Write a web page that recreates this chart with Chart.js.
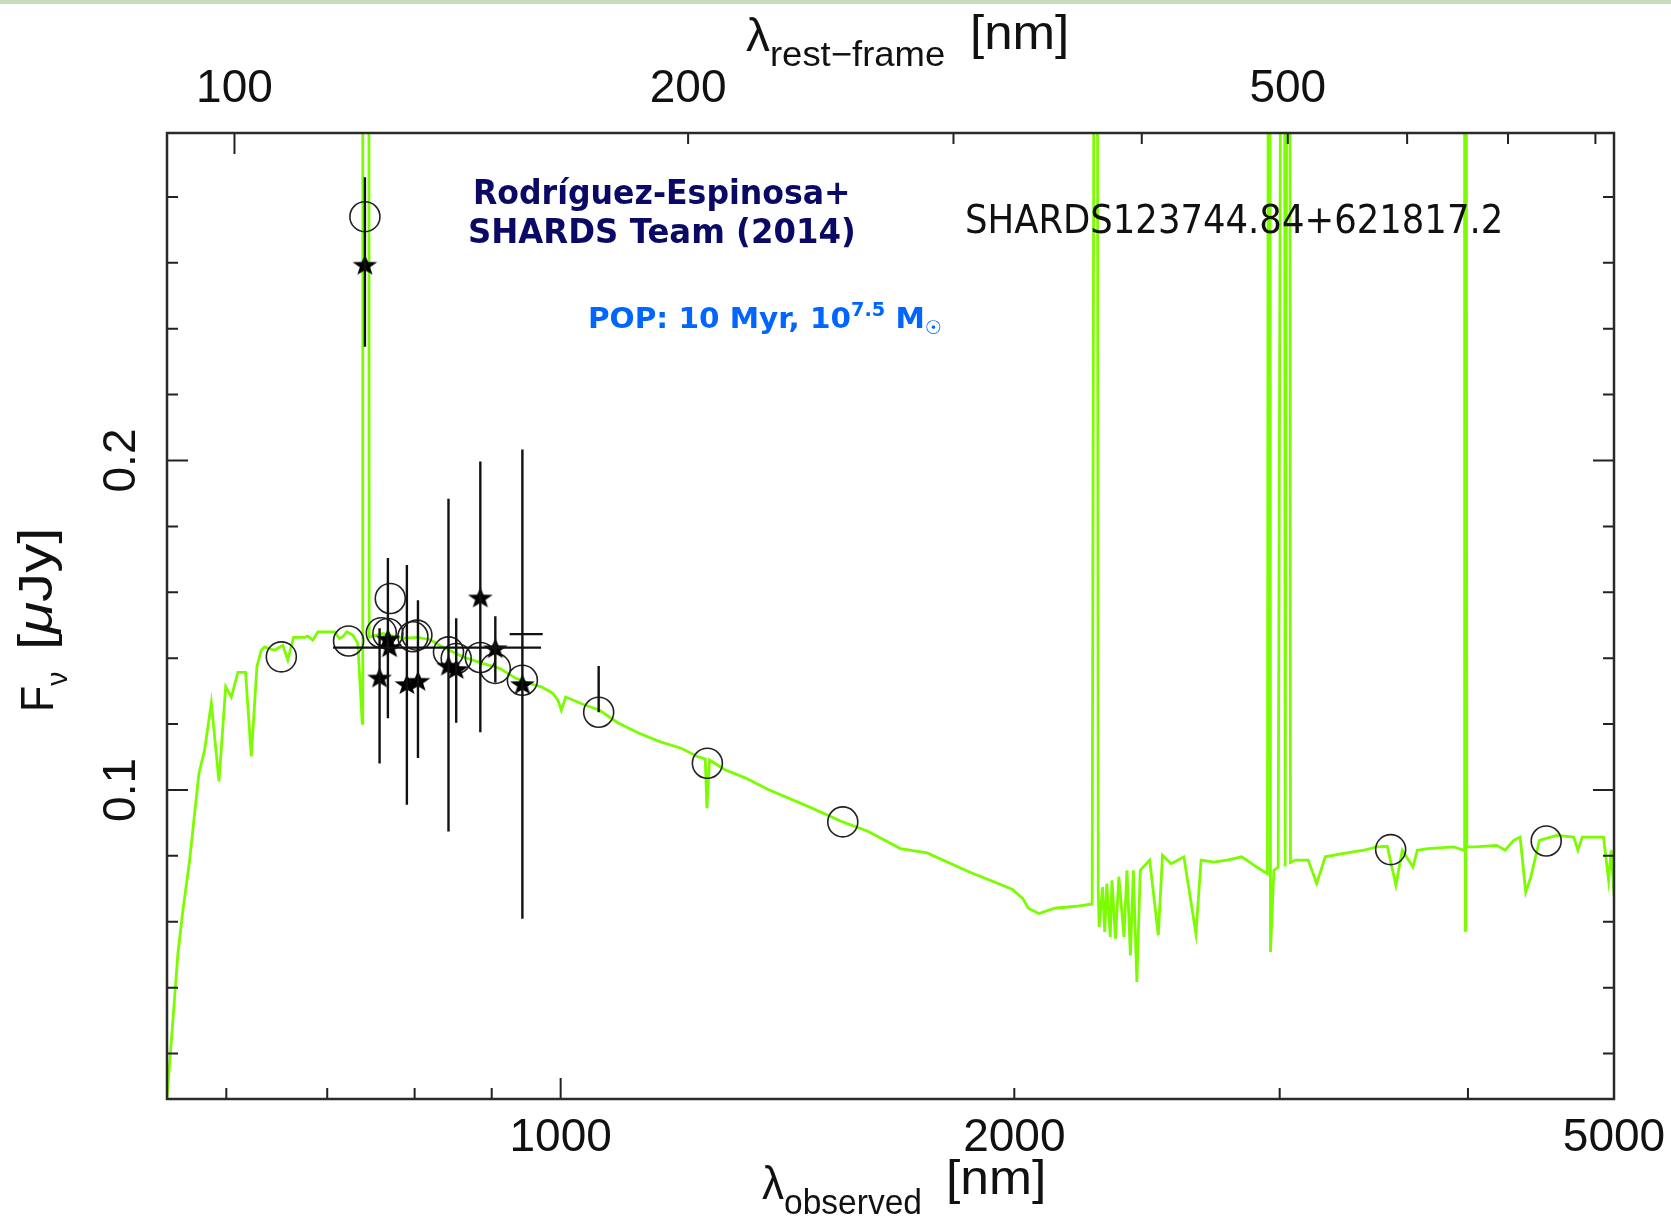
<!DOCTYPE html>
<html><head><meta charset="utf-8">
<script src="https://cdn.jsdelivr.net/npm/chart.js@4"></script>
<style>
html,body{margin:0;padding:0;background:#fff;overflow:hidden;}
#wrap{position:relative;width:1671px;height:1216px;background:#fff;}
#c{position:absolute;left:0;top:0;}
.t{position:absolute;left:0;top:0;white-space:nowrap;line-height:1;}
</style></head><body>
<div id="wrap">
<canvas id="c" width="1671" height="1216"></canvas>
<div style="position:absolute;left:0;top:0;width:1671px;height:4px;background:#c5dcbd"></div>
</div>
<script>
// ---------------- data ----------------
const xMin = 548, xMax = 5000;          // observed wavelength range [nm]
const yMin = 0.0062, yMax = 0.2994;     // F_nu range [uJy]
const redshift = 5.075;                 // rest-frame axis conversion

const xTicks = [600, 700, 800, 900, 1000, 2000, 3000, 4000, 5000];
const xLabels = [1000, 2000, 5000];
const xMajor = [1000];
const topTicks = [100, 200, 300, 400, 500, 600, 700, 800];
const topLabels = [100, 200, 500];
const topMajor = [100];
const yTicks = [0.02, 0.04, 0.06, 0.08, 0.1, 0.12, 0.14, 0.16, 0.18, 0.2, 0.22, 0.24, 0.26, 0.28];
const yLabels = [0.1, 0.2];

// model spectrum (green)
const specWave = [548, 557.2, 561.5, 567.3, 571.6, 575.4, 580.4, 586.4, 593.3, 599.4,
  604.6, 610.7, 617.9, 623.3, 628.7, 632.9, 636.1, 645.9, 654.1, 659.1,
  664.9, 676.2, 679.6, 684.8, 690.1, 707.9, 713.3, 716.9, 721.3, 727.9,
  733.5, 738.5, 739.1, 745.6, 746.3, 762.1, 785.7, 802.0, 818.4, 831.0,
  843.8, 861.1, 887.8, 910.9, 934.6, 953.7, 970.9, 988.3, 995.9, 1001.1,
  1007.7, 1034.7, 1061.4, 1091.1, 1127.4, 1164.7, 1203.3, 1233.1, 1247.3, 1250.4,
  1255.5, 1284.5, 1326.9, 1370.8, 1463.0, 1538.9, 1600.1, 1680.3, 1750.3, 1867.6,
  1993.6, 2026.5, 2043.0, 2076.4, 2127.8, 2198.5, 2252.6, 2265.4, 2268.1, 2273.7,
  2276.8, 2288.7, 2296.4, 2303.8, 2315.8, 2321.8, 2334.3, 2346.5, 2364.8, 2375.7,
  2388.1, 2399.0, 2411.9, 2424.5, 2459.6, 2492.1, 2508.2, 2541.4, 2591.6, 2639.6,
  2660.6, 2713.2, 2766.8, 2831.0, 2896.7, 2944.5, 2951.3, 2954.9, 2958.1, 2973.5,
  2993.1, 3016.5, 3020.6, 3025.2, 3040.6, 3045.2, 3049.9, 3072.3, 3133.5, 3174.5,
  3216.5, 3301.6, 3411.4, 3478.8, 3536.1, 3582.9, 3618.1, 3677.7, 3702.0, 3763.0,
  3913.8, 3977.1, 3979.5, 3984, 3987, 3993, 4044.6, 4179.2, 4233.8, 4289.8,
  4332.0, 4369.2, 4403.4, 4461.7, 4579.8, 4701.0, 4732.1, 4763.2, 4920.3, 4958.9,
  4978.6, 5001.5];
const specFlux = [0.0063, 0.0503, 0.0635, 0.0787, 0.0928, 0.1050, 0.1121, 0.1264, 0.1026, 0.1313,
  0.1282, 0.1357, 0.1357, 0.1102, 0.1374, 0.1424, 0.1434, 0.1424, 0.1439, 0.1394,
  0.1463, 0.1463, 0.1467, 0.1455, 0.1480, 0.1480, 0.1460, 0.1465, 0.1480, 0.1470,
  0.1445, 0.1202, 0.6, 0.6, 0.1464, 0.1475, 0.1460, 0.1463, 0.1457, 0.1439,
  0.1424, 0.1404, 0.1384, 0.1369, 0.1338, 0.1323, 0.1313, 0.1293, 0.1272, 0.1242,
  0.1282, 0.1260, 0.1242, 0.1204, 0.1172, 0.1146, 0.1126, 0.1101, 0.1094, 0.0945,
  0.1091, 0.1062, 0.1036, 0.1003, 0.0948, 0.0903, 0.0874, 0.0822, 0.0809, 0.0751,
  0.0699, 0.0670, 0.0641, 0.0625, 0.0641, 0.0647, 0.0654, 0.6, 0.6, 0.0695,
  0.0584, 0.0705, 0.0569, 0.0716, 0.0554, 0.0726, 0.0549, 0.0737, 0.0554, 0.0756,
  0.0498, 0.0756, 0.0417, 0.0756, 0.0787, 0.0559, 0.0802, 0.0776, 0.0797, 0.0564,
  0.0787, 0.0781, 0.0787, 0.0797, 0.0766, 0.0746, 0.6, 0.6, 0.0508, 0.0756,
  0.0766, 0.6, 0.6, 0.0768, 0.6, 0.6, 0.0780, 0.0787, 0.0787, 0.0716,
  0.0797, 0.0807, 0.0817, 0.0827, 0.0829, 0.0711, 0.0817, 0.0766, 0.0817, 0.0822,
  0.0827, 0.0817, 0.6, 0.0574, 0.6, 0.0827, 0.0827, 0.0832, 0.0817, 0.0847,
  0.0857, 0.0690, 0.0736, 0.0847, 0.0862, 0.0857, 0.0817, 0.0857, 0.0857, 0.0726,
  0.0817, 0.0675];

// model photometry (open circles)
const modelWave = [652.6, 723.2, 741.5, 760.3, 768.0, 770.8, 797.9, 802.8, 842.5, 852.5, 884.5, 905.0, 943.2, 1059.8, 1251.3, 1538.9, 3554.4, 4508.0];
const modelFlux = [0.1404, 0.1452, 0.2740, 0.1477, 0.1475, 0.1581, 0.1465, 0.1470, 0.1419, 0.1399, 0.1402, 0.1369, 0.1333, 0.1236, 0.1081, 0.0903, 0.0819, 0.0845];

// observed photometry (stars) with vertical error bars
const obsWave  = [741.5, 758.3, 768.0, 770.0, 790.6, 804.1, 842.5, 852.5, 884.5, 905.0, 943.2];
const obsFlux  = [0.2596, 0.1343, 0.1461, 0.1435, 0.1323, 0.1333, 0.1379, 0.1369, 0.1586, 0.1432, 0.1323];
const obsErrLo = [0.2345, 0.1080, 0.1218, null, 0.0955, 0.1097, 0.0874, 0.1204, 0.1175, 0.1327, 0.0609];
const obsErrHi = [0.2860, 0.1491, 0.1704, null, 0.1683, 0.1576, 0.1884, 0.1521, 0.1997, 0.1527, 0.2033];

// horizontal (band width) bars
const bandFlux = [0.1432, 0.1473];
const bandLo   = [706.3, 925];
const bandHi   = [970.5, 973];

// lone vertical bar
const barWave = [1059.8];
const barLo   = [0.1236];
const barHi   = [0.1376];

// ---------------- drawing ----------------
function makeStar() {
  const w = 26, h = 23;
  const c = document.createElement('canvas'); c.width = w; c.height = h;
  const g = c.getContext('2d');
  g.fillStyle = '#000';
  g.beginPath();
  const cx = w / 2, cy = h / 2 + 1.5, R = 13, r = 5.4;
  for (let k = 0; k < 10; k++) {
    const a = -Math.PI / 2 + k * Math.PI / 5;
    const rad = k % 2 === 0 ? R : r;
    const px = cx + rad * Math.cos(a), py = cy + rad * Math.sin(a) * 0.85;
    if (k === 0) g.moveTo(px, py); else g.lineTo(px, py);
  }
  g.closePath(); g.fill();
  return c;
}
const starImg = makeStar();

const tickFont = { family: '"Liberation Sans", Arial, sans-serif', size: 46 };

const framePlugin = {
  id: 'frame',
  afterDatasetsDraw(chart) {
    const { ctx, chartArea: a, scales } = chart;
    const xs = scales.x, ys = scales.y;
    ctx.save();
    ctx.beginPath(); ctx.rect(a.left, a.top, a.right - a.left, a.bottom - a.top); ctx.clip();
    ctx.strokeStyle = '#111'; ctx.lineWidth = 2.4; ctx.lineCap = 'butt';
    ctx.beginPath();
    obsWave.forEach((w, i) => {
      if (obsErrLo[i] == null) return;
      const px = xs.getPixelForValue(w);
      ctx.moveTo(px, ys.getPixelForValue(obsErrLo[i]));
      ctx.lineTo(px, ys.getPixelForValue(obsErrHi[i]));
    });
    bandFlux.forEach((f, i) => {
      const py = ys.getPixelForValue(f);
      ctx.moveTo(xs.getPixelForValue(bandLo[i]), py);
      ctx.lineTo(xs.getPixelForValue(bandHi[i]), py);
    });
    barWave.forEach((w, i) => {
      const px = xs.getPixelForValue(w);
      ctx.moveTo(px, ys.getPixelForValue(barLo[i]));
      ctx.lineTo(px, ys.getPixelForValue(barHi[i]));
    });
    ctx.stroke();
    ctx.restore();
  },
  afterDraw(chart) {
    const { ctx, chartArea: a, scales } = chart;
    const xs = scales.x, xt = scales.xTop, ys = scales.y;
    ctx.save();
    ctx.strokeStyle = '#222'; ctx.lineWidth = 2;
    ctx.beginPath();
    xTicks.forEach(v => {
      const p = xs.getPixelForValue(v), L = xMajor.includes(v) ? 21 : 11;
      ctx.moveTo(p, a.bottom); ctx.lineTo(p, a.bottom - L);
    });
    topTicks.forEach(v => {
      const p = xt.getPixelForValue(v), L = topMajor.includes(v) ? 21 : 11;
      ctx.moveTo(p, a.top); ctx.lineTo(p, a.top + L);
    });
    yTicks.forEach(v => {
      const p = ys.getPixelForValue(v), L = yLabels.includes(v) ? 21 : 11;
      ctx.moveTo(a.left, p); ctx.lineTo(a.left + L, p);
      ctx.moveTo(a.right, p); ctx.lineTo(a.right - L, p);
    });
    ctx.stroke();
    ctx.lineWidth = 2.5; ctx.strokeStyle = '#2a2a2a';
    ctx.strokeRect(a.left, a.top, a.right - a.left, a.bottom - a.top);
    ctx.fillStyle = '#111';
    ctx.font = '46px "Liberation Sans", Arial, sans-serif';
    ctx.textAlign = 'center'; ctx.textBaseline = 'middle';
    yLabels.forEach(v => {
      const p = ys.getPixelForValue(v);
      ctx.save(); ctx.translate(122.5, p); ctx.rotate(-Math.PI / 2);
      ctx.fillText(String(v), 0, 0); ctx.restore();
    });
    ctx.restore();
  }
};

const noPadX = s => { s.paddingLeft = 0; s.paddingRight = 0; };
const noPadY = s => { s.paddingTop = 0; s.paddingBottom = 0; };

new Chart(document.getElementById('c'), {
  type: 'scatter',
  data: {
    datasets: [
      { label: 'observed', data: obsWave.map((w, i) => ({ x: w, y: obsFlux[i] })),
        pointStyle: starImg, pointRadius: 12, order: 0 },
      { label: 'model photometry', data: modelWave.map((w, i) => ({ x: w, y: modelFlux[i] })),
        pointStyle: 'circle', pointRadius: 15, borderColor: '#222', borderWidth: 1.6,
        backgroundColor: 'rgba(0,0,0,0)', order: 1 },
      { label: 'model spectrum', data: specWave.map((w, i) => ({ x: w, y: specFlux[i] })),
        showLine: true, borderColor: '#7CFC00', borderWidth: 2.8, pointRadius: 0,
        tension: 0, order: 2 }
    ]
  },
  options: {
    responsive: false, animation: false, events: [],
    layout: { padding: 0 },
    plugins: { legend: { display: false }, tooltip: { enabled: false } },
    scales: {
      x: {
        type: 'logarithmic', position: 'bottom', min: xMin, max: xMax,
        grid: { display: false, drawTicks: false }, border: { display: false },
        afterBuildTicks: s => { s.ticks = xTicks.map(v => ({ value: v })); },
        afterFit: s => { s.height = 117; noPadX(s); },
        ticks: { autoSkip: false, maxRotation: 0, minRotation: 0, padding: 12, color: '#111',
          font: tickFont, callback: v => xLabels.includes(v) ? String(v) : '' }
      },
      xTop: {
        type: 'logarithmic', position: 'top',
        min: xMin / (1 + redshift), max: xMax / (1 + redshift),
        grid: { display: false, drawTicks: false }, border: { display: false },
        afterBuildTicks: s => { s.ticks = topTicks.map(v => ({ value: v })); },
        afterFit: s => { s.height = 133; noPadX(s); },
        ticks: { autoSkip: false, maxRotation: 0, minRotation: 0, padding: 16, color: '#111',
          font: tickFont, callback: v => topLabels.includes(v) ? String(v) : '' }
      },
      y: {
        type: 'linear', position: 'left', min: yMin, max: yMax,
        grid: { display: false, drawTicks: false }, border: { display: false },
        ticks: { display: false },
        afterFit: s => { s.width = 167; noPadY(s); }
      },
      yRight: {
        type: 'linear', position: 'right', min: yMin, max: yMax,
        grid: { display: false, drawTicks: false }, border: { display: false },
        ticks: { display: false },
        afterFit: s => { s.width = 57; noPadY(s); }
      }
    }
  },
  plugins: [framePlugin]
});

// ---------------- text overlays ----------------
const wrap = document.getElementById('wrap');
function place(html, o) {
  const d = document.createElement('div');
  d.className = 't';
  d.style.fontFamily = o.family || '"Liberation Sans", Arial, sans-serif';
  d.style.fontSize = o.size + 'px';
  d.style.fontWeight = o.weight || 'normal';
  d.style.color = o.color || '#111';
  d.innerHTML = html + '<i style="display:inline-block;width:0;height:0;vertical-align:baseline"></i>';
  wrap.appendChild(d);
  const mark = d.lastElementChild;
  const base = mark.offsetTop;
  const w = d.offsetWidth;
  const sx = o.width ? o.width / w : 1;
  d.style.transformOrigin = '0 0';
  if (o.rotate) {
    d.style.transform = `translate(${o.x}px, ${o.y}px) rotate(-90deg) scaleX(${sx}) translate(0px, ${-base}px)`;
  } else {
    let left = o.x;
    if (o.center) left = o.x - w * sx / 2;
    d.style.left = left + 'px';
    d.style.top = (o.y - base) + 'px';
    d.style.transform = `scaleX(${sx})`;
  }
}
const sub = (t, s, dy) => `<span style="font-size:${s}px;position:relative;top:${dy}px">${t}</span>`;

// axis titles
place('λ' + sub('rest−frame', 35, 15), { x: 746, y: 51, size: 46, width: 199 });
place('[nm]', { x: 970, y: 48.5, size: 49, width: 99 });
place('λ' + sub('observed', 35, 15), { x: 762, y: 1199, size: 46, width: 160 });
place('[nm]', { x: 946, y: 1193.7, size: 49, width: 100 });
place('F' + sub('ν', 30, 14), { x: 52.5, y: 712, size: 46, rotate: true, width: 40 });
place('[<i>μ</i>Jy]', { x: 52, y: 650, size: 48, rotate: true, width: 122.5 });

// annotations
const ann = '"DejaVu Sans", Verdana, sans-serif';
place('Rodríguez-Espinosa+', { x: 662.2, y: 203.5, size: 33, weight: 'bold', color: '#0a0a66', family: ann, center: true, width: 378 });
place('SHARDS Team (2014)', { x: 662.2, y: 242.7, size: 33, weight: 'bold', color: '#0a0a66', family: ann, center: true, width: 388 });
place('POP: 10 Myr, 10' + sub('7.5', 19, -12) + ' M' + sub('☉', 19, 6),
  { x: 587.6, y: 328.3, size: 29, weight: 'bold', color: '#0066ff', family: ann, width: 354 });
place('SHARDS123744.84+621817.2', { x: 964.5, y: 233.4, size: 39, color: '#111', family: ann, width: 538 });
</script>
</body></html>
